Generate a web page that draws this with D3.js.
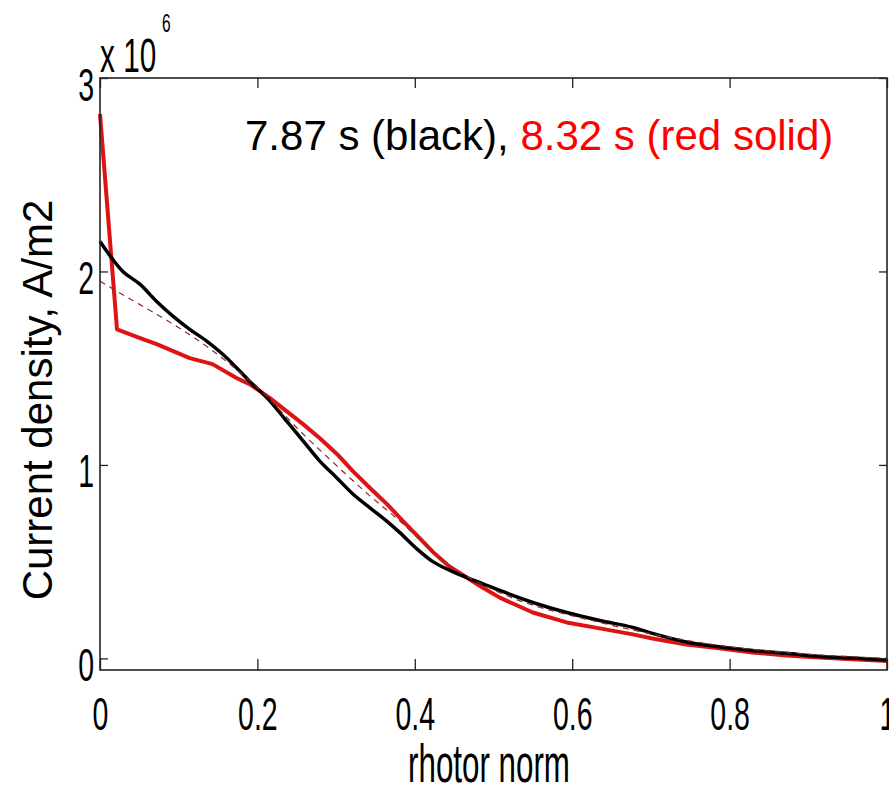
<!DOCTYPE html>
<html>
<head>
<meta charset="utf-8">
<script src="https://cdn.jsdelivr.net/npm/d3@7"></script>
<style>
  body { margin: 0; background: #fff; }
  svg { display: block; font-family: "Liberation Sans", Arial, sans-serif; }
</style>
</head>
<body>
<div id="chart"></div>
<script>
// data, current density in units of 1e6 A/m2 vs normalised rho
var rhoBlack = [0, .029, .051, .072, .093, .114, .136, .156, .190, .216, .237, .258, .279, .301, .321, .343, .364, .381, .403, .423, .444, .466, .486, .508, .550, .593, .635, .677, .702, .745, .787, .829, .872, .914, .956, 1];
var jBlack = [2.155, 2.0, 1.933, 1.845, 1.768, 1.701, 1.639, 1.572, 1.433, 1.330, 1.227, 1.124, 1.021, 0.933, 0.851, 0.778, 0.711, 0.650, 0.565, 0.500, 0.456, 0.418, 0.387, 0.351, 0.289, 0.237, 0.196, 0.160, 0.129, 0.085, 0.060, 0.041, 0.026, 0.010, 0.002, -0.008];

var rhoRed = [0, .0216, .051, .072, .093, .114, .143, .174, .190, .216, .237, .258, .279, .301, .321, .343, .364, .385, .403, .423, .444, .466, .486, .508, .550, .593, .635, .677, .702, .745, .787, .829, .872, .914, .956, 1];
var jRed = [2.814, 1.701, 1.655, 1.624, 1.588, 1.552, 1.521, 1.448, 1.418, 1.345, 1.278, 1.211, 1.139, 1.057, 0.969, 0.881, 0.80, 0.71, 0.635, 0.55, 0.475, 0.418, 0.366, 0.314, 0.237, 0.186, 0.155, 0.124, 0.103, 0.072, 0.052, 0.031, 0.015, 0.004, -0.004, -0.014];

var rhoDash = [0, .0165, .149, .200, .258, .301, .343, .381, .444, .508, .635, .762, 1];
var jDash = [1.95, 1.91, 1.572, 1.40, 1.16, 0.995, 0.84, 0.71, 0.48, 0.34, 0.186, 0.082, 0];

var xTicks = [0, 0.2, 0.4, 0.6, 0.8, 1];
var yTicks = [0, 1, 2, 3];

var W = 889, H = 788;
var padL = 100, padR = 887, padT = 78, padB = 670;
var squeeze = 0.62; // narrow matlab-ish lettering

var svg = d3.select("#chart").append("svg").attr("width", W).attr("height", H);

var x = d3.scaleLinear().domain([0, 1]).range([padL, padR]);
var y = d3.scaleLinear().domain([-0.06, 3]).range([padB, padT]);

function zip(a, b) {
  return a.map(function (v, i) { return [v, b[i]]; });
}

var smooth = d3.line()
  .x(function (d) { return x(d[0]); })
  .y(function (d) { return y(d[1]); })
  .curve(d3.curveMonotoneX);
// red profile has a sharp corner near the axis, keep it straight-segmented
var straight = d3.line()
  .x(function (d) { return x(d[0]); })
  .y(function (d) { return y(d[1]); });

// curves
svg.append("path").datum(zip(rhoRed, jRed))
  .attr("d", straight).attr("fill", "none")
  .attr("stroke", "#dd1414").attr("stroke-width", 4).attr("stroke-linejoin", "round");
svg.append("path").datum(zip(rhoBlack, jBlack))
  .attr("d", smooth).attr("fill", "none")
  .attr("stroke", "#000").attr("stroke-width", 3.5).attr("stroke-linejoin", "round");
svg.append("path").datum(zip(rhoDash, jDash))
  .attr("d", smooth).attr("fill", "none")
  .attr("stroke", "#8b2a2a").attr("stroke-width", 1.2).attr("stroke-dasharray", "6,5");

// axes, ticks pointing inward
var xAxisG = svg.append("g").attr("transform", "translate(0," + padB + ")")
  .call(d3.axisBottom(x).tickValues(xTicks).tickSizeInner(-11).tickSizeOuter(0)
    .tickFormat(function (d) { return String(d); }));
svg.append("g").attr("transform", "translate(0," + padT + ")")
  .call(d3.axisTop(x).tickValues(xTicks).tickSizeInner(-10).tickSizeOuter(0).tickFormat(""));
var yAxisG = svg.append("g").attr("transform", "translate(" + padL + ",0)")
  .call(d3.axisLeft(y).tickValues(yTicks).tickSizeInner(-8).tickSizeOuter(0)
    .tickFormat(function (d) { return String(d); }));
svg.append("g").attr("transform", "translate(" + padR + ",0)")
  .call(d3.axisRight(y).tickValues(yTicks).tickSizeInner(-8).tickSizeOuter(0).tickFormat(""));

svg.selectAll(".domain").remove();
svg.selectAll(".tick line").attr("stroke", "#222").attr("stroke-width", 1.3);

xAxisG.attr("font-family", null).attr("font-size", 46);
xAxisG.selectAll("text")
  .attr("y", null).attr("dy", null).attr("fill", "#000")
  .attr("transform", "translate(0,60) scale(" + squeeze + ",1)");

yAxisG.attr("font-family", null).attr("font-size", 46);
yAxisG.selectAll("text")
  .attr("x", null).attr("dy", null).attr("fill", "#000")
  .attr("transform", "translate(-6,22) scale(" + squeeze + ",1)");

// frame
svg.append("rect")
  .attr("x", padL).attr("y", padT)
  .attr("width", padR - padL).attr("height", padB - padT)
  .attr("fill", "none").attr("stroke", "#222").attr("stroke-width", 1.6);

// exponent label
svg.append("text")
  .attr("transform", "translate(100,72) scale(" + squeeze + ",1)")
  .attr("font-size", 48).text("x 10");
svg.append("text")
  .attr("transform", "translate(162,32) scale(" + squeeze + ",1)")
  .attr("font-size", 25).text("6");

// axis titles
svg.append("text")
  .attr("transform", "translate(489,782) scale(0.58,1)")
  .attr("text-anchor", "middle").attr("font-size", 54).text("rhotor norm");
svg.append("text")
  .attr("transform", "translate(52,400) rotate(-90)")
  .attr("text-anchor", "middle").attr("font-size", 42).text("Current density,  A/m2");

// in-plot caption
var cap = svg.append("text").attr("x", 245).attr("y", 150).attr("font-size", 42);
cap.append("tspan").attr("fill", "#000").text("7.87 s (black), ");
cap.append("tspan").attr("fill", "#ff0000").text("8.32 s (red solid)");
</script>
</body>
</html>
